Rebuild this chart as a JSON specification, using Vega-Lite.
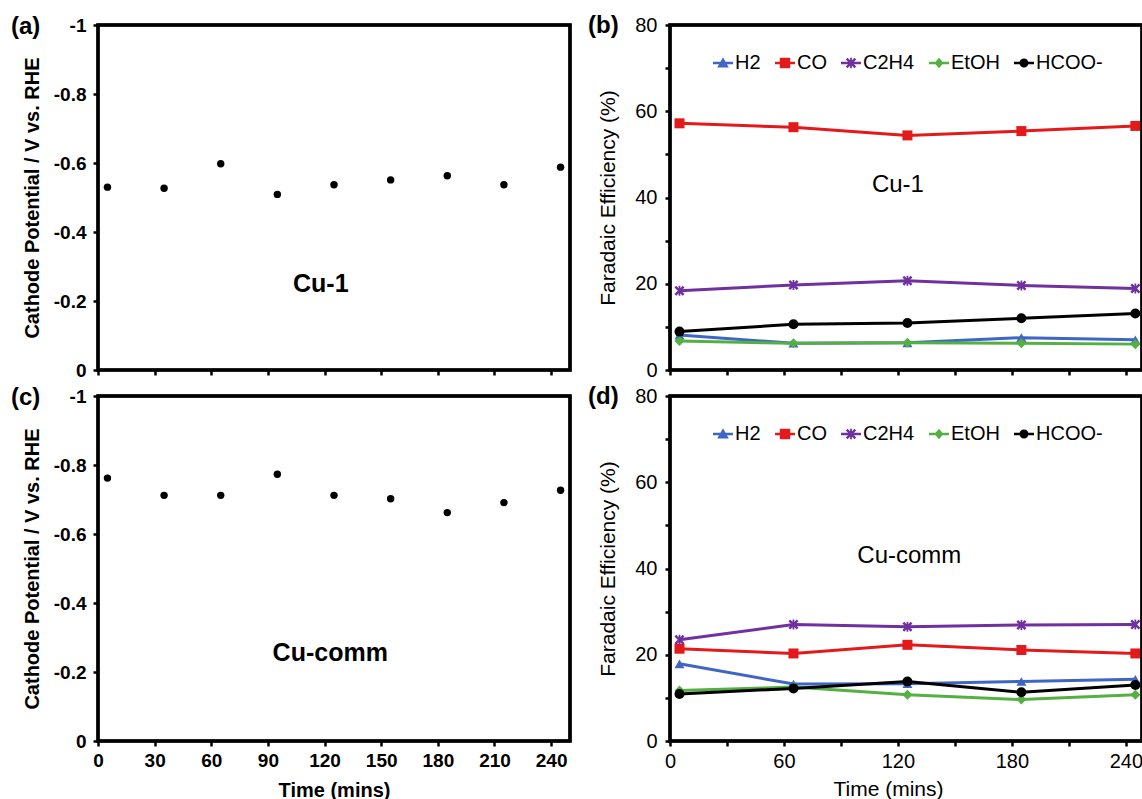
{
  "$schema": "https://vega.github.io/schema/vega-lite/v6.json",
  "background": "white",
  "padding": {"left": 9, "top": 12, "right": 0, "bottom": 0},
  "config": {
    "view": {"stroke": "#000000", "strokeWidth": 3},
    "font": "Liberation Sans",
    "axis": {"grid": false, "domain": false, "tickColor": "#000000", "tickWidth": 2.5, "tickSize": 5, "labelColor": "#000000", "titleColor": "#000000", "labelFont": "Liberation Sans", "titleFont": "Liberation Sans", "labelFlush": false, "labelOverlap": false},
    "title": {"color": "#000000", "font": "Liberation Sans"}
  },
  "datasets": {
    "frame_a": [{"x0": 0, "x1": 250, "y0": -1, "y1": 0}],
    "frame_b": [{"x0": 0, "x1": 248.5, "y0": 0, "y1": 80}],
    "frame_c": [{"x0": 0, "x1": 250, "y0": -1, "y1": 0}],
    "frame_d": [{"x0": 0, "x1": 248.5, "y0": 0, "y1": 80}],
    "cu1_pot": [
      {"time": 5, "v": -0.53}, {"time": 35, "v": -0.527}, {"time": 65, "v": -0.598},
      {"time": 95, "v": -0.509}, {"time": 125, "v": -0.537}, {"time": 155, "v": -0.551},
      {"time": 185, "v": -0.563}, {"time": 215, "v": -0.537}, {"time": 245, "v": -0.588}
    ],
    "cucomm_pot": [
      {"time": 5, "v": -0.762}, {"time": 35, "v": -0.712}, {"time": 65, "v": -0.712},
      {"time": 95, "v": -0.773}, {"time": 125, "v": -0.712}, {"time": 155, "v": -0.702},
      {"time": 185, "v": -0.662}, {"time": 215, "v": -0.691}, {"time": 245, "v": -0.727}
    ],
    "cu1_fe": [
      {"product": "H2", "time": 5, "fe": 8.1}, {"product": "H2", "time": 65, "fe": 6.2}, {"product": "H2", "time": 125, "fe": 6.3}, {"product": "H2", "time": 185, "fe": 7.5}, {"product": "H2", "time": 245, "fe": 7.0},
      {"product": "CO", "time": 5, "fe": 57.2}, {"product": "CO", "time": 65, "fe": 56.3}, {"product": "CO", "time": 125, "fe": 54.4}, {"product": "CO", "time": 185, "fe": 55.4}, {"product": "CO", "time": 245, "fe": 56.6},
      {"product": "C2H4", "time": 5, "fe": 18.4}, {"product": "C2H4", "time": 65, "fe": 19.7}, {"product": "C2H4", "time": 125, "fe": 20.7}, {"product": "C2H4", "time": 185, "fe": 19.6}, {"product": "C2H4", "time": 245, "fe": 18.9},
      {"product": "EtOH", "time": 5, "fe": 6.7}, {"product": "EtOH", "time": 65, "fe": 6.2}, {"product": "EtOH", "time": 125, "fe": 6.3}, {"product": "EtOH", "time": 185, "fe": 6.2}, {"product": "EtOH", "time": 245, "fe": 6.0},
      {"product": "HCOO-", "time": 5, "fe": 8.9}, {"product": "HCOO-", "time": 65, "fe": 10.6}, {"product": "HCOO-", "time": 125, "fe": 10.9}, {"product": "HCOO-", "time": 185, "fe": 12.0}, {"product": "HCOO-", "time": 245, "fe": 13.1}
    ],
    "cucomm_fe": [
      {"product": "H2", "time": 5, "fe": 17.9}, {"product": "H2", "time": 65, "fe": 13.2}, {"product": "H2", "time": 125, "fe": 13.3}, {"product": "H2", "time": 185, "fe": 13.8}, {"product": "H2", "time": 245, "fe": 14.3},
      {"product": "CO", "time": 5, "fe": 21.4}, {"product": "CO", "time": 65, "fe": 20.3}, {"product": "CO", "time": 125, "fe": 22.3}, {"product": "CO", "time": 185, "fe": 21.1}, {"product": "CO", "time": 245, "fe": 20.3},
      {"product": "C2H4", "time": 5, "fe": 23.5}, {"product": "C2H4", "time": 65, "fe": 27.0}, {"product": "C2H4", "time": 125, "fe": 26.5}, {"product": "C2H4", "time": 185, "fe": 26.9}, {"product": "C2H4", "time": 245, "fe": 27.0},
      {"product": "EtOH", "time": 5, "fe": 11.7}, {"product": "EtOH", "time": 65, "fe": 12.5}, {"product": "EtOH", "time": 125, "fe": 10.7}, {"product": "EtOH", "time": 185, "fe": 9.6}, {"product": "EtOH", "time": 245, "fe": 10.7},
      {"product": "HCOO-", "time": 5, "fe": 10.9}, {"product": "HCOO-", "time": 65, "fe": 12.2}, {"product": "HCOO-", "time": 125, "fe": 13.8}, {"product": "HCOO-", "time": 185, "fe": 11.3}, {"product": "HCOO-", "time": 245, "fe": 13.0}
    ]
  },
  "columns": 2,
  "bounds": "flush",
  "spacing": {"row": 26, "column": 100},
  "concat": [
    {
      "width": 472, "height": 345,
      "title": {"text": "(a)", "anchor": "start", "frame": "group", "orient": "top", "offset": 0, "dx": -87, "dy": 35, "baseline": "middle", "fontSize": 24, "fontWeight": "bold"},
      "layer": [
        {
          "data": {"name": "cu1_pot"},
          "mark": {"type": "point", "shape": "circle", "filled": true, "color": "black", "size": 55, "opacity": 1},
          "encoding": {
            "x": {"field": "time", "type": "quantitative", "scale": {"domain": [0, 250], "nice": false},
                  "axis": {"values": [0,15,30,45,60,75,90,105,120,135,150,165,180,195,210,225,240], "labels": false, "title": null}},
            "y": {"field": "v", "type": "quantitative", "scale": {"domain": [-1, 0], "reverse": true, "nice": false},
                  "axis": {"values": [-1,-0.9,-0.8,-0.7,-0.6,-0.5,-0.4,-0.3,-0.2,-0.1,0],
                           "labelExpr": "abs(round(datum.value*10)) % 2 == 0 ? (datum.value < 0 ? '-' : '') + format(abs(datum.value), '~g') : ''",
                           "labelFontSize": 19, "labelFontWeight": "bold", "labelPadding": 7,
                           "title": "Cathode  Potential  / V vs. RHE", "titleFontSize": 20, "titleFontWeight": "bold", "titlePadding": 11}}
          }
        },
        {
          "data": {"values": [{"label": "Cu-1", "time": 118, "v": -0.25}]},
          "mark": {"type": "text", "fontSize": 25, "fontWeight": "bold", "color": "black"},
          "encoding": {"x": {"field": "time", "type": "quantitative"}, "y": {"field": "v", "type": "quantitative"}, "text": {"field": "label"}}
        },
        {
          "data": {"name": "frame_a"},
          "mark": {"type": "rect", "filled": false, "stroke": "#000000", "strokeWidth": 3.5, "clip": false},
          "encoding": {"x": {"field": "x0", "type": "quantitative"}, "x2": {"field": "x1"}, "y": {"field": "y0", "type": "quantitative"}, "y2": {"field": "y1"}}
        }
      ]
    },
    {
      "width": 472, "height": 345,
      "title": {"text": "(b)", "anchor": "start", "frame": "group", "orient": "top", "offset": 0, "dx": -82, "dy": 35, "baseline": "middle", "fontSize": 24, "fontWeight": "bold"},
      "resolve": {"scale": {"color": "independent", "shape": "independent"}},
      "layer": [
        {
          "data": {"name": "cu1_fe"},
          "mark": {"type": "line", "strokeWidth": 3},
          "encoding": {
            "x": {"field": "time", "type": "quantitative", "scale": {"domain": [0, 248.5], "nice": false},
                  "axis": {"values": [0,30,60,90,120,150,180,210,240], "labels": false, "title": null}},
            "y": {"field": "fe", "type": "quantitative", "scale": {"domain": [0, 80], "nice": false},
                  "axis": {"values": [0,10,20,30,40,50,60,70,80], "labelExpr": "datum.value % 20 == 0 ? datum.label : ''",
                           "labelFontSize": 20, "labelPadding": 8, "title": "Faradaic Efficiency (%)", "titleFontSize": 21, "titleFontWeight": "normal", "titlePadding": 16}},
            "color": {"field": "product", "type": "nominal", "scale": {"domain": ["H2","CO","C2H4","EtOH","HCOO-"], "range": ["#3F66C6","#E31A1C","#7030A0","#55B043","#000000"]}, "legend": null}
          }
        },
        {
          "data": {"name": "cu1_fe"},
          "mark": {"type": "point", "filled": true, "size": 100, "opacity": 1},
          "encoding": {
            "x": {"field": "time", "type": "quantitative"},
            "y": {"field": "fe", "type": "quantitative"},
            "color": {"field": "product", "type": "nominal", "scale": {"domain": ["H2","CO","C2H4","EtOH","HCOO-"], "range": ["#3F66C6","#E31A1C","#7030A0","#55B043","#000000"]}, "legend": null},
            "shape": {"field": "product", "type": "nominal", "scale": {"domain": ["H2","CO","C2H4","EtOH","HCOO-"], "range": ["triangle-up","square","M-1,-0.65L-0.65,-1L0,-0.35L0.65,-1L1,-0.65L0.35,0L1,0.65L0.65,1L0,0.35L-0.65,1L-1,0.65L-0.35,0ZM-0.17,-1H0.17V1H-0.17Z","diamond","circle"]}, "legend": null}
          }
        },
        {
          "data": {"name": "cu1_fe"},
          "transform": [{"filter": "datum.time < 0"}],
          "mark": {"type": "point", "filled": true},
          "encoding": {
            "x": {"field": "time", "type": "quantitative"},
            "y": {"field": "fe", "type": "quantitative"},
            "color": {"field": "product", "type": "nominal", "scale": {"domain": ["H2","CO","C2H4","EtOH","HCOO-"], "range": ["#3F66C6","#E31A1C","#7030A0","#55B043","#000000"]},
                      "legend": {"orient": "none", "legendX": 43, "legendY": 28, "direction": "horizontal", "columns": 5, "title": null, "labelFontSize": 20, "labelFont": "Liberation Sans", "labelColor": "black", "symbolSize": 400, "labelOffset": 2, "columnPadding": 14, "padding": 0, "symbolStrokeWidth": 0, "symbolOpacity": 1}},
            "shape": {"field": "product", "type": "nominal", "scale": {"domain": ["H2","CO","C2H4","EtOH","HCOO-"], "range": [
              "M-1,-0.13H1V0.13H-1ZM0,-0.58L0.58,0.45H-0.58Z",
              "M-1,-0.13H1V0.13H-1ZM-0.52,-0.52H0.52V0.52H-0.52Z",
              "M-1,-0.13H1V0.13H-1ZM-0.52,-0.35L-0.35,-0.52L0,-0.17L0.35,-0.52L0.52,-0.35L0.17,0L0.52,0.35L0.35,0.52L0,0.17L-0.35,0.52L-0.52,0.35L-0.17,0ZM-0.09,-0.52H0.09V0.52H-0.09Z",
              "M-1,-0.13H1V0.13H-1ZM0,-0.52L0.45,0L0,0.52L-0.45,0Z",
              "M-1,-0.13H1V0.13H-1ZM0.45,0A0.45,0.45,0,1,1,-0.45,0A0.45,0.45,0,1,1,0.45,0Z"]},
                      "legend": {"orient": "none", "legendX": 43, "legendY": 28, "direction": "horizontal", "columns": 5, "title": null, "labelFontSize": 20, "labelFont": "Liberation Sans", "labelColor": "black", "symbolSize": 400, "labelOffset": 2, "columnPadding": 14, "padding": 0, "symbolStrokeWidth": 0, "symbolOpacity": 1}}
          }
        },
        {
          "data": {"values": [{"label": "Cu-1", "time": 120, "fe": 43}]},
          "mark": {"type": "text", "fontSize": 24, "color": "black"},
          "encoding": {"x": {"field": "time", "type": "quantitative"}, "y": {"field": "fe", "type": "quantitative"}, "text": {"field": "label"}}
        },
        {
          "data": {"name": "frame_b"},
          "mark": {"type": "rect", "filled": false, "stroke": "#000000", "strokeWidth": 3.5, "clip": false},
          "encoding": {"x": {"field": "x0", "type": "quantitative"}, "x2": {"field": "x1"}, "y": {"field": "y0", "type": "quantitative"}, "y2": {"field": "y1"}}
        }
      ]
    },
    {
      "width": 472, "height": 345,
      "title": {"text": "(c)", "anchor": "start", "frame": "group", "orient": "top", "offset": 0, "dx": -87, "dy": 35, "baseline": "middle", "fontSize": 24, "fontWeight": "bold"},
      "layer": [
        {
          "data": {"name": "cucomm_pot"},
          "mark": {"type": "point", "shape": "circle", "filled": true, "color": "black", "size": 55, "opacity": 1},
          "encoding": {
            "x": {"field": "time", "type": "quantitative", "scale": {"domain": [0, 250], "nice": false},
                  "axis": {"values": [0,15,30,45,60,75,90,105,120,135,150,165,180,195,210,225,240], "labelExpr": "datum.value % 30 == 0 ? datum.label : ''",
                           "labelFontSize": 19, "labelFontWeight": "bold", "labelPadding": 5,
                           "title": "Time  (mins)", "titleFontSize": 20, "titleFontWeight": "bold", "titlePadding": 10}},
            "y": {"field": "v", "type": "quantitative", "scale": {"domain": [-1, 0], "reverse": true, "nice": false},
                  "axis": {"values": [-1,-0.9,-0.8,-0.7,-0.6,-0.5,-0.4,-0.3,-0.2,-0.1,0],
                           "labelExpr": "abs(round(datum.value*10)) % 2 == 0 ? (datum.value < 0 ? '-' : '') + format(abs(datum.value), '~g') : ''",
                           "labelFontSize": 19, "labelFontWeight": "bold", "labelPadding": 7,
                           "title": "Cathode  Potential  / V vs. RHE", "titleFontSize": 20, "titleFontWeight": "bold", "titlePadding": 11}}
          }
        },
        {
          "data": {"values": [{"label": "Cu-comm", "time": 123, "v": -0.254}]},
          "mark": {"type": "text", "fontSize": 25, "fontWeight": "bold", "color": "black"},
          "encoding": {"x": {"field": "time", "type": "quantitative"}, "y": {"field": "v", "type": "quantitative"}, "text": {"field": "label"}}
        },
        {
          "data": {"name": "frame_c"},
          "mark": {"type": "rect", "filled": false, "stroke": "#000000", "strokeWidth": 3.5, "clip": false},
          "encoding": {"x": {"field": "x0", "type": "quantitative"}, "x2": {"field": "x1"}, "y": {"field": "y0", "type": "quantitative"}, "y2": {"field": "y1"}}
        }
      ]
    },
    {
      "width": 472, "height": 345,
      "title": {"text": "(d)", "anchor": "start", "frame": "group", "orient": "top", "offset": 0, "dx": -82, "dy": 35, "baseline": "middle", "fontSize": 24, "fontWeight": "bold"},
      "resolve": {"scale": {"color": "independent", "shape": "independent"}},
      "layer": [
        {
          "data": {"name": "cucomm_fe"},
          "mark": {"type": "line", "strokeWidth": 3},
          "encoding": {
            "x": {"field": "time", "type": "quantitative", "scale": {"domain": [0, 248.5], "nice": false},
                  "axis": {"values": [0,30,60,90,120,150,180,210,240], "labelExpr": "datum.value % 60 == 0 ? datum.label : ''",
                           "labelFontSize": 20, "labelPadding": 5, "title": "Time (mins)", "titleFontSize": 21, "titleFontWeight": "normal", "titlePadding": 7, "titleX": 218}},
            "y": {"field": "fe", "type": "quantitative", "scale": {"domain": [0, 80], "nice": false},
                  "axis": {"values": [0,10,20,30,40,50,60,70,80], "labelExpr": "datum.value % 20 == 0 ? datum.label : ''",
                           "labelFontSize": 20, "labelPadding": 8, "title": "Faradaic Efficiency (%)", "titleFontSize": 21, "titleFontWeight": "normal", "titlePadding": 16}},
            "color": {"field": "product", "type": "nominal", "scale": {"domain": ["H2","CO","C2H4","EtOH","HCOO-"], "range": ["#3F66C6","#E31A1C","#7030A0","#55B043","#000000"]}, "legend": null}
          }
        },
        {
          "data": {"name": "cucomm_fe"},
          "mark": {"type": "point", "filled": true, "size": 100, "opacity": 1},
          "encoding": {
            "x": {"field": "time", "type": "quantitative"},
            "y": {"field": "fe", "type": "quantitative"},
            "color": {"field": "product", "type": "nominal", "scale": {"domain": ["H2","CO","C2H4","EtOH","HCOO-"], "range": ["#3F66C6","#E31A1C","#7030A0","#55B043","#000000"]}, "legend": null},
            "shape": {"field": "product", "type": "nominal", "scale": {"domain": ["H2","CO","C2H4","EtOH","HCOO-"], "range": ["triangle-up","square","M-1,-0.65L-0.65,-1L0,-0.35L0.65,-1L1,-0.65L0.35,0L1,0.65L0.65,1L0,0.35L-0.65,1L-1,0.65L-0.35,0ZM-0.17,-1H0.17V1H-0.17Z","diamond","circle"]}, "legend": null}
          }
        },
        {
          "data": {"name": "cucomm_fe"},
          "transform": [{"filter": "datum.time < 0"}],
          "mark": {"type": "point", "filled": true},
          "encoding": {
            "x": {"field": "time", "type": "quantitative"},
            "y": {"field": "fe", "type": "quantitative"},
            "color": {"field": "product", "type": "nominal", "scale": {"domain": ["H2","CO","C2H4","EtOH","HCOO-"], "range": ["#3F66C6","#E31A1C","#7030A0","#55B043","#000000"]},
                      "legend": {"orient": "none", "legendX": 43, "legendY": 28, "direction": "horizontal", "columns": 5, "title": null, "labelFontSize": 20, "labelFont": "Liberation Sans", "labelColor": "black", "symbolSize": 400, "labelOffset": 2, "columnPadding": 14, "padding": 0, "symbolStrokeWidth": 0, "symbolOpacity": 1}},
            "shape": {"field": "product", "type": "nominal", "scale": {"domain": ["H2","CO","C2H4","EtOH","HCOO-"], "range": [
              "M-1,-0.13H1V0.13H-1ZM0,-0.58L0.58,0.45H-0.58Z",
              "M-1,-0.13H1V0.13H-1ZM-0.52,-0.52H0.52V0.52H-0.52Z",
              "M-1,-0.13H1V0.13H-1ZM-0.52,-0.35L-0.35,-0.52L0,-0.17L0.35,-0.52L0.52,-0.35L0.17,0L0.52,0.35L0.35,0.52L0,0.17L-0.35,0.52L-0.52,0.35L-0.17,0ZM-0.09,-0.52H0.09V0.52H-0.09Z",
              "M-1,-0.13H1V0.13H-1ZM0,-0.52L0.45,0L0,0.52L-0.45,0Z",
              "M-1,-0.13H1V0.13H-1ZM0.45,0A0.45,0.45,0,1,1,-0.45,0A0.45,0.45,0,1,1,0.45,0Z"]},
                      "legend": {"orient": "none", "legendX": 43, "legendY": 28, "direction": "horizontal", "columns": 5, "title": null, "labelFontSize": 20, "labelFont": "Liberation Sans", "labelColor": "black", "symbolSize": 400, "labelOffset": 2, "columnPadding": 14, "padding": 0, "symbolStrokeWidth": 0, "symbolOpacity": 1}}
          }
        },
        {
          "data": {"values": [{"label": "Cu-comm", "time": 126, "fe": 43}]},
          "mark": {"type": "text", "fontSize": 24, "color": "black"},
          "encoding": {"x": {"field": "time", "type": "quantitative"}, "y": {"field": "fe", "type": "quantitative"}, "text": {"field": "label"}}
        },
        {
          "data": {"name": "frame_d"},
          "mark": {"type": "rect", "filled": false, "stroke": "#000000", "strokeWidth": 3.5, "clip": false},
          "encoding": {"x": {"field": "x0", "type": "quantitative"}, "x2": {"field": "x1"}, "y": {"field": "y0", "type": "quantitative"}, "y2": {"field": "y1"}}
        }
      ]
    }
  ]
}
